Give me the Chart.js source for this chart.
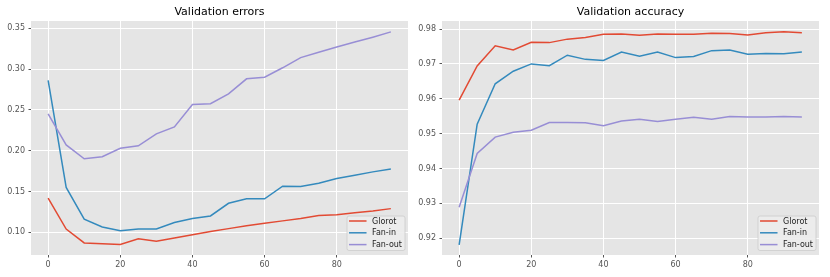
<!DOCTYPE html>
<html>
<head>
<meta charset="utf-8">
<script src="https://cdn.jsdelivr.net/npm/chart.js@4/dist/chart.umd.min.js"></script>
<style>
  body { margin: 0; background: #fff; }
  .panel { position: absolute; top: 0; width: 415px; height: 277px; }
</style>
</head>
<body>
<div class="panel" style="left:0"><canvas id="chart-errors" width="415" height="277"></canvas></div>
<div class="panel" style="left:415px"><canvas id="chart-accuracy" width="415" height="277"></canvas></div>
<script>
// ---- datos ----
const epochs = [0, 5, 10, 15, 20, 25, 30, 35, 40, 45, 50, 55, 60, 65, 70, 75, 80, 85, 90, 95];
const seriesNames = ['Glorot', 'Fan-in', 'Fan-out'];

const glorotErr = [0.142, 0.104, 0.087, 0.086, 0.085, 0.092, 0.089, 0.093, 0.097, 0.101, 0.1045, 0.108, 0.111, 0.114, 0.117, 0.1205, 0.1215, 0.124, 0.126, 0.129];
const faninErr  = [0.286, 0.155, 0.116, 0.1065, 0.102, 0.104, 0.104, 0.112, 0.117, 0.120, 0.1355, 0.141, 0.141, 0.1565, 0.156, 0.160, 0.166, 0.170, 0.174, 0.1775];
const fanoutErr = [0.245, 0.207, 0.190, 0.1925, 0.203, 0.206, 0.2205, 0.229, 0.2565, 0.2575, 0.2695, 0.288, 0.290, 0.3015, 0.314, 0.3205, 0.327, 0.333, 0.339, 0.3455];

const glorotAcc = [0.9596, 0.9694, 0.9752, 0.9740, 0.9762, 0.9761, 0.9771, 0.9776, 0.9785, 0.9786, 0.9782, 0.9786, 0.9785, 0.9785, 0.9788, 0.9787, 0.9783, 0.9789, 0.9792, 0.9789];
const faninAcc  = [0.9181, 0.9527, 0.9643, 0.9679, 0.9700, 0.9695, 0.9725, 0.9713, 0.9710, 0.9734, 0.9722, 0.9734, 0.9718, 0.9721, 0.9738, 0.9740, 0.9728, 0.9730, 0.9729, 0.9734];
const fanoutAcc = [0.9289, 0.9443, 0.9490, 0.9504, 0.9510, 0.9532, 0.9532, 0.9531, 0.9523, 0.9536, 0.9541, 0.9535, 0.9541, 0.9547, 0.9541, 0.9549, 0.9548, 0.9548, 0.9549, 0.9548];

const xTicks = [0, 20, 40, 60, 80];
const yTicksErr = [0.10, 0.15, 0.20, 0.25, 0.30, 0.35];
const yTicksAcc = [0.92, 0.93, 0.94, 0.95, 0.96, 0.97, 0.98];

// ---- estilo ggplot ----
const colores = ['#E24A33', '#348ABD', '#988ED5'];
const FUENTE = '"DejaVu Sans", sans-serif';

// leyenda dibujada dentro del área del gráfico (abajo a la derecha)
const leyendaInterior = {
    id: 'leyendaInterior',
    afterDraw(chart) {
        const ctx = chart.ctx;
        const area = chart.chartArea;
        ctx.save();
        ctx.font = '8px ' + FUENTE;
        const anchoTexto = Math.max(...chart.data.datasets.map(d => ctx.measureText(d.label).width));
        const w = 2 + 17.5 + 5.5 + anchoTexto + 3;
        const h = 34.5;
        const x = area.right - 3 - w;
        const y = area.bottom - 4.5 - h;
        ctx.beginPath();
        ctx.roundRect(x, y, w, h, 2);
        ctx.fillStyle = 'rgba(236,236,236,0.9)';
        ctx.fill();
        ctx.strokeStyle = '#cccccc';
        ctx.lineWidth = 0.8;
        ctx.stroke();
        chart.data.datasets.forEach((d, i) => {
            const fy = y + 5 + i * 11.8;
            ctx.beginPath();
            ctx.moveTo(x + 2, fy);
            ctx.lineTo(x + 19.5, fy);
            ctx.strokeStyle = d.borderColor;
            ctx.lineWidth = 1.5;
            ctx.stroke();
            ctx.fillStyle = '#222';
            ctx.textBaseline = 'middle';
            ctx.textAlign = 'left';
            ctx.fillText(d.label, x + 25, fy + 0.5);
        });
        ctx.restore();
    }
};

function crearGrafico(id, titulo, series, yTicks, yMin, yMax, anchoEjeY, padDerecha) {
    const ctx = document.getElementById(id).getContext('2d');
    return new Chart(ctx, {
        type: 'line',
        data: {
            datasets: series.map((valores, i) => ({
                label: seriesNames[i],
                data: epochs.map((e, j) => ({ x: e, y: valores[j] })),
                borderColor: colores[i],
                backgroundColor: colores[i],
                borderWidth: 1.5,
                pointRadius: 0,
                tension: 0,
                order: 3 - i
            }))
        },
        options: {
            responsive: false,
            animation: false,
            devicePixelRatio: 1,
            layout: { padding: { left: 0, right: padDerecha, top: 0, bottom: 0 } },
            plugins: {
                legend: { display: false },
                tooltip: { enabled: false },
                title: {
                    display: true,
                    text: titulo,
                    fullSize: false,
                    color: '#000',
                    font: { family: FUENTE, size: 11, weight: 'normal', lineHeight: 1.2 },
                    padding: { top: 6, bottom: 1.8 }
                }
            },
            scales: {
                x: {
                    type: 'linear',
                    min: -4.75,
                    max: 99.75,
                    afterBuildTicks: s => { s.ticks = xTicks.map(v => ({ value: v })); },
                    afterFit: s => { s.height = 22; },
                    border: { display: false },
                    grid: { color: '#ffffff', lineWidth: 1, tickLength: 2.5, tickColor: '#555555' },
                    ticks: { color: '#555555', font: { family: FUENTE, size: 8 }, padding: 3, maxRotation: 0 }
                },
                y: {
                    min: yMin,
                    max: yMax,
                    afterBuildTicks: s => { s.ticks = yTicks.map(v => ({ value: v })); },
                    afterFit: s => { s.width = anchoEjeY; },
                    border: { display: false },
                    grid: { color: '#ffffff', lineWidth: 1, tickLength: 2.5, tickColor: '#555555' },
                    ticks: { color: '#555555', font: { family: FUENTE, size: 8 }, padding: 3.5,
                             callback: v => v.toFixed(2) }
                }
            }
        },
        plugins: [{
            id: 'fondo',
            beforeDraw(chart) {
                const a = chart.chartArea;
                chart.ctx.save();
                chart.ctx.fillStyle = '#E5E5E5';
                chart.ctx.fillRect(a.left, a.top, a.right - a.left, a.bottom - a.top);
                chart.ctx.restore();
            }
        }, leyendaInterior]
    });
}

crearGrafico('chart-errors', 'Validation errors', [glorotErr, faninErr, fanoutErr], yTicksErr, 0.0722, 0.3588, 31, 7);
crearGrafico('chart-accuracy', 'Validation accuracy', [glorotAcc, faninAcc, fanoutAcc], yTicksAcc, 0.9152, 0.9823, 27, 11);
</script>
</body>
</html>
